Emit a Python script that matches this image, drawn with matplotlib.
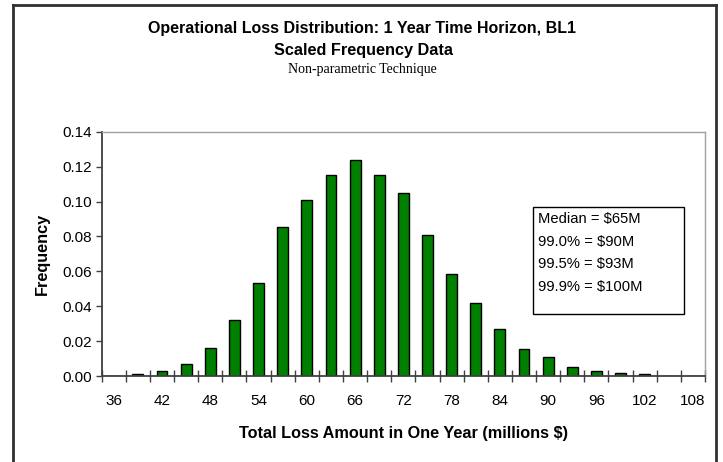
import numpy as np
import matplotlib.pyplot as plt
from matplotlib.patches import Rectangle
from matplotlib.lines import Line2D

plt.rcParams['font.family'] = ['Liberation Sans', 'DejaVu Sans']

# Simulated one-year loss amounts (millions $), one bin every 3M
loss_bins = [36, 39, 42, 45, 48, 51, 54, 57, 60, 63, 66, 69, 72,
             75, 78, 81, 84, 87, 90, 93, 96, 99, 102, 105, 108]
frequency = [0.0, 0.001, 0.0029, 0.007, 0.0159, 0.0323, 0.0531, 0.0856,
             0.1009, 0.115, 0.1238, 0.115, 0.1047, 0.081, 0.0586, 0.0417,
             0.0271, 0.0156, 0.0107, 0.0053, 0.0029, 0.0019, 0.001, 0.0, 0.0]

stat_names = ["Median", "99.0%", "99.5%", "99.9%"]
stat_values = [65, 90, 93, 100]

W, H = 723, 462
fig = plt.figure(figsize=(W / 100, H / 100), dpi=100)

def fx(px):
    return px / W

def fy(py):
    return 1 - py / H

ax = fig.add_axes([fx(101.7), fy(376), fx(705 - 101.7), (376 - 131.7) / H])

pos = np.arange(len(loss_bins))
ax.bar(pos, frequency, width=0.45, color="#008000", edgecolor="black", linewidth=1.0)

ax.set_xlim(-0.5, len(loss_bins) - 0.5)
ax.set_ylim(0, 0.14)

# labels on every other bin, tick marks between bins
ax.set_xticks(pos[::2])
ax.set_xticklabels([str(v) for v in loss_bins[::2]], fontsize=11)
ax.set_xticks(np.arange(-0.5, len(loss_bins)), minor=True)
ax.tick_params(axis="x", which="major", length=0, pad=13)
ax.tick_params(axis="x", which="minor", direction="inout", length=8, width=1, color="#404040")

ax.set_yticks(np.arange(0, 0.141, 0.02))
ax.set_yticklabels([f"{v:.2f}" for v in np.arange(0, 0.141, 0.02)], fontsize=11)
ax.tick_params(axis="y", direction="out", length=4, width=1, color="#404040", pad=3)

for side in ["left", "bottom"]:
    ax.spines[side].set_color("#404040")
    ax.spines[side].set_linewidth(1.3)
for side in ["top", "right"]:
    ax.spines[side].set_color("#a0a0a0")
    ax.spines[side].set_linewidth(1.0)

ax.set_xlabel("Total Loss Amount in One Year (millions $)", fontsize=11.7,
              fontweight="bold", labelpad=13)
ax.set_ylabel("Frequency", fontsize=11.7, fontweight="bold", labelpad=9)

# titles
fig.text(fx(362), fy(28), "Operational Loss Distribution: 1 Year Time Horizon, BL1",
         ha="center", va="center", fontsize=11.5, fontweight="bold")
fig.text(fx(364), fy(51), "Scaled Frequency Data",
         ha="center", va="center", fontsize=11.7, fontweight="bold")
fig.text(fx(362), fy(69), "Non-parametric Technique",
         ha="center", va="center", fontsize=10, family="Liberation Serif")

# summary statistics box
fig.add_artist(Rectangle((fx(533), fy(314)), fx(684 - 533), (314 - 207) / H,
                         transform=fig.transFigure, facecolor="white",
                         edgecolor="black", linewidth=1.0))
for i, (name, val) in enumerate(zip(stat_names, stat_values)):
    fig.text(fx(538), fy(219 + i * 22.7), f"{name} = ${val}M",
             ha="left", va="center", fontsize=10.6)

# chart frame
for xs, ys in [((13, 13), (5, H)), ((13, 716), (5, 5)), ((716, 716), (5, H))]:
    fig.add_artist(Line2D([fx(x) for x in xs], [fy(y) for y in ys],
                          transform=fig.transFigure, color="#303030", linewidth=2))

fig.savefig("out.png", dpi=100)
